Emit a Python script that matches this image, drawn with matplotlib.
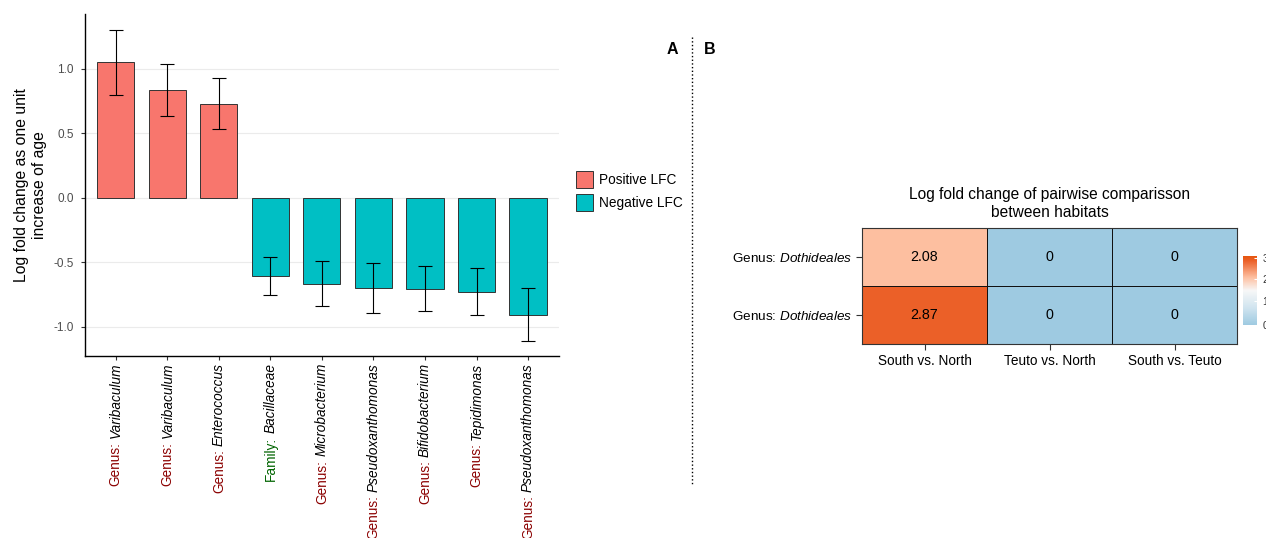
import numpy as np
import matplotlib
matplotlib.use("Agg")
import matplotlib.pyplot as plt
from matplotlib.patches import Patch
from matplotlib.colors import LinearSegmentedColormap, TwoSlopeNorm
from matplotlib import transforms

plt.rcParams["font.family"] = ["Liberation Sans", "DejaVu Sans"]
plt.rcParams["mathtext.fontset"] = "custom"
plt.rcParams["mathtext.rm"] = "Liberation Sans"
plt.rcParams["mathtext.it"] = "Liberation Sans:italic"

# panel A data
prefixes = ["Genus:", "Genus:", "Genus:", "Family:", "Genus:", "Genus:", "Genus:", "Genus:", "Genus:"]
taxa = ["Varibaculum", "Varibaculum", "Enterococcus", "Bacillaceae", "Microbacterium",
        "Pseudoxanthomonas", "Bifidobacterium", "Tepidimonas", "Pseudoxanthomonas"]
lfc = np.array([1.05, 0.837, 0.726, -0.609, -0.667, -0.698, -0.705, -0.729, -0.907])
err_low = np.array([0.796, 0.633, 0.53, -0.757, -0.837, -0.891, -0.878, -0.912, -1.111])
err_high = np.array([1.30, 1.04, 0.928, -0.462, -0.493, -0.504, -0.527, -0.543, -0.700])

# panel B data
hm_rows = ["Genus: $\\it{Dothideales}$", "Genus: $\\it{Dothideales}$"]
hm_cols = ["South vs. North", "Teuto vs. North", "South vs. Teuto"]
hm_vals = np.array([[2.08, 0, 0],
                    [2.87, 0, 0]])

pos_col = "#F8766D"
neg_col = "#00BFC4"
prefix_col = {"Genus:": "#8B0000", "Family:": "#006400"}

fig = plt.figure(figsize=(12.66, 5.38), dpi=100)

# ---- panel A ----
ax = fig.add_axes([0.0671, 0.3383, 0.3744, 0.635])
x = np.arange(1, len(lfc) + 1)
cols = [pos_col if v > 0 else neg_col for v in lfc]
ax.bar(x, lfc, width=0.72, color=cols, edgecolor="#333333", linewidth=0.7, zorder=2)
ax.errorbar(x, lfc, yerr=[lfc - err_low, err_high - lfc], fmt="none", ecolor="black",
            elinewidth=0.8, capsize=5.2, capthick=0.8, zorder=3)
ax.set_xlim(0.4, 9.6)
ax.set_ylim(-1.227, 1.422)
ax.set_yticks([-1.0, -0.5, 0.0, 0.5, 1.0])
ax.set_yticklabels(["-1.0", "-0.5", "0.0", "0.5", "1.0"])
ax.yaxis.grid(True, color="#EBEBEB", linewidth=0.8, zorder=0)
ax.set_axisbelow(True)
ax.set_xticks(x)
ax.set_xticklabels([])
ax.tick_params(axis="both", length=3, width=0.8, colors="#333333", labelsize=8.5,
               labelcolor="#4D4D4D", pad=5)
for s in ["top", "right"]:
    ax.spines[s].set_visible(False)
for s in ["left", "bottom"]:
    ax.spines[s].set_linewidth(1.0)
ax.set_ylabel("Log fold change as one unit\nincrease of age", fontsize=11.3, labelpad=5)

trans = transforms.blended_transform_factory(ax.transData, ax.transAxes)
trans = transforms.offset_copy(trans, fig=fig, y=-7, units="dots")
names = []
for xi, name in zip(x, taxa):
    t = ax.text(xi, 0, name, transform=trans, rotation=90, ha="center", va="top",
                fontsize=9.8, style="italic", color="black")
    names.append(t)

fig.canvas.draw()
renderer = fig.canvas.get_renderer()
inv = fig.transFigure.inverted()
for t, pre in zip(names, prefixes):
    bb = t.get_window_extent(renderer)
    fx, fy = inv.transform(((bb.x0 + bb.x1) / 2, bb.y0 - 3.5))
    fig.text(fx, fy, pre, rotation=90, ha="center", va="top", fontsize=9.8,
             color=prefix_col[pre])

handles = [Patch(facecolor=pos_col, edgecolor="#333333", linewidth=0.7, label="Positive LFC"),
           Patch(facecolor=neg_col, edgecolor="#333333", linewidth=0.7, label="Negative LFC")]
fig.legend(handles=handles, loc="upper left", bbox_to_anchor=(576 / 1266, 1 - 171 / 538), frameon=False,
           fontsize=9.8, handlelength=1.25, handleheight=1.55, labelspacing=0.42,
           handletextpad=0.45, borderaxespad=0, borderpad=0)

fig.text(672 / 1266, 1 - 50 / 538, "A", fontsize=11.5, fontweight="bold", ha="center", va="center")
fig.text(710 / 1266, 1 - 50 / 538, "B", fontsize=11.5, fontweight="bold", ha="center", va="center")
fig.add_artist(plt.Line2D([692 / 1266, 692 / 1266], [1 - 37 / 538, 1 - 485 / 538],
                          transform=fig.transFigure, color="black", linestyle=":", linewidth=1.0))

# ---- panel B ----
hx = fig.add_axes([862 / 1266, 1 - 344 / 538, 375 / 1266, 116 / 538])
cmap = LinearSegmentedColormap.from_list("lfc", [(0.0, "#9ECAE1"), (0.25, "#D0E4EF"), (0.5, "#F7F7F7"),
                                                 (0.69, "#FDBFA0"), (0.93, "#EB6129"), (1.0, "#E6550D")])
norm = TwoSlopeNorm(vmin=0, vcenter=1.45, vmax=3.1)
mesh = hx.pcolormesh(np.arange(4), np.arange(3), hm_vals, cmap=cmap, norm=norm,
                     edgecolors="#111111", linewidth=0.5)
hx.set_xlim(0, 3)
hx.set_ylim(2, 0)
for i in range(hm_vals.shape[0]):
    for j in range(hm_vals.shape[1]):
        v = hm_vals[i, j]
        hx.text(j + 0.5, i + 0.5, f"{v:g}" if v == 0 else f"{v:.2f}", ha="center", va="center",
                fontsize=10.3, color="black")
hx.set_xticks(np.arange(3) + 0.5)
hx.set_xticklabels(hm_cols, fontsize=9.8)
hx.set_yticks(np.arange(2) + 0.5)
hx.set_yticklabels(hm_rows, fontsize=9.7)
hx.tick_params(length=4, width=0.8, colors="#333333", labelcolor="black", pad=3)
for s in hx.spines.values():
    s.set_color("#333333")
    s.set_linewidth(0.8)
hx.text(0.5, 1.065, "Log fold change of pairwise comparisson\nbetween habitats", transform=hx.transAxes,
        ha="center", va="bottom", fontsize=11.2, linespacing=1.3)

cax = fig.add_axes([1243 / 1266, 1 - 325 / 538, 14 / 1266, 69 / 538])
cb = fig.colorbar(mesh, cax=cax, ticks=[0, 1, 2, 3])
cb.outline.set_visible(False)
cb.ax.tick_params(length=2.5, width=0.8, colors="white", labelcolor="#333333", labelsize=7.5,
                  direction="in", pad=4)

fig.savefig("out.png", dpi=100)
